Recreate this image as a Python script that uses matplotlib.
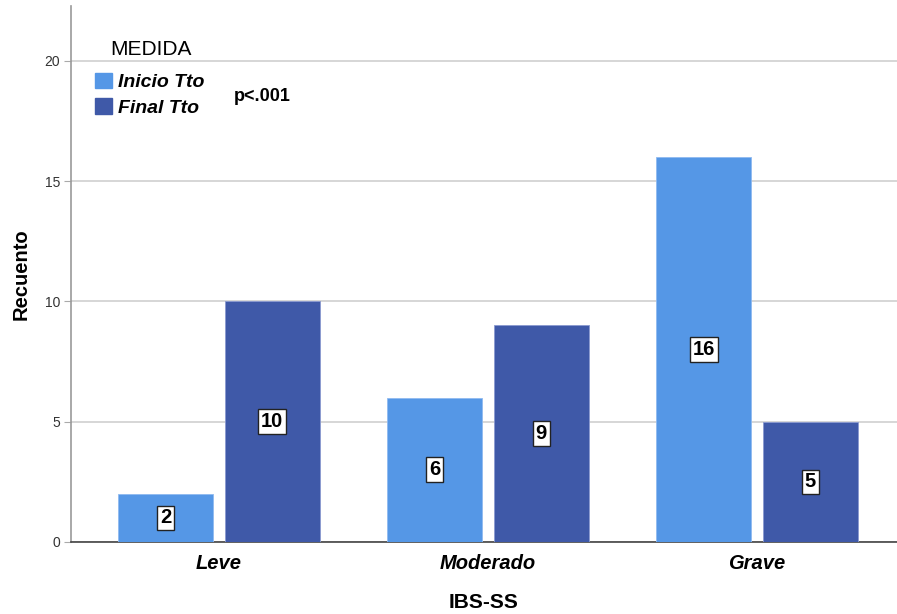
import matplotlib
matplotlib.use("Agg")
import matplotlib.pyplot as plt
from matplotlib.patches import Patch
import numpy as np

plt.rcParams['font.family'] = ['Liberation Sans', 'DejaVu Sans']

categories = ["Leve", "Moderado", "Grave"]
series_names = ["Inicio Tto", "Final Tto"]
inicio = [2, 6, 16]
final = [10, 9, 5]
yticks = [0, 5, 10, 15, 20]

c_inicio = "#5597e6"
c_final = "#3f59a8"

fig = plt.figure(figsize=(8.97, 6.14), dpi=100)
ax = fig.add_axes([0.0792, 0.1173, 0.9208, 0.8737])

x = np.arange(len(categories))
w = 0.353
off = 0.198
b1 = ax.bar(x - off, inicio, w, color=c_inicio, edgecolor="#8fbaf0", linewidth=0.6, zorder=3)
b2 = ax.bar(x + off, final, w, color=c_final, edgecolor="#8a9ad0", linewidth=0.6, zorder=3)

for bars, vals in ((b1, inicio), (b2, final)):
    for rect, v in zip(bars, vals):
        ax.text(rect.get_x() + rect.get_width() / 2, v / 2, str(v),
                ha="center", va="center", fontsize=14.5, fontweight="bold",
                color="black", zorder=5,
                bbox=dict(boxstyle="square,pad=0.14", facecolor="white",
                          edgecolor="#222222", linewidth=1.0))

ax.set_xlim(-0.549, 2.52)
ax.set_ylim(0, 22.3)
ax.set_yticks(yticks)
ax.set_yticklabels([str(t) for t in yticks], fontsize=10, color="#333333")
ax.set_xticks(x)
ax.set_xticklabels(categories, fontsize=14.5, fontstyle="italic", fontweight="bold")
ax.tick_params(axis="x", length=0, pad=9)
ax.tick_params(axis="y", length=5, color="#aaaaaa", pad=3)

ax.yaxis.grid(True, color="#d0d0d0", linewidth=1.2, zorder=0)
ax.set_axisbelow(True)

for s in ("top", "right"):
    ax.spines[s].set_visible(False)
ax.spines["left"].set_color("#999999")
ax.spines["left"].set_linewidth(1.2)
ax.spines["bottom"].set_color("#444444")
ax.spines["bottom"].set_linewidth(1.2)

ax.set_ylabel("Recuento", fontsize=14.5, fontweight="bold", labelpad=10)
ax.set_xlabel("IBS-SS", fontsize=15, fontweight="bold", labelpad=14)

# legend: title drawn as its own text, entries below it
ax.text(0.0472, 0.918, "MEDIDA", transform=ax.transAxes, fontsize=15,
        ha="left", va="center")
handles = [Patch(facecolor=c_inicio, edgecolor=c_inicio),
           Patch(facecolor=c_final, edgecolor=c_final)]
leg = ax.legend(handles, series_names, loc="upper left",
                bbox_to_anchor=(0.029, 0.875), frameon=False,
                prop=dict(size=14, style="italic", weight="bold"),
                handlelength=0.9, handleheight=0.85,
                handletextpad=0.3, labelspacing=0.36, borderaxespad=0.0,
                borderpad=0.0)

ax.text(0.197, 0.830, "p<.001", transform=ax.transAxes, fontsize=13,
        fontweight="bold", ha="left", va="center")

fig.savefig("out.png", dpi=100)
